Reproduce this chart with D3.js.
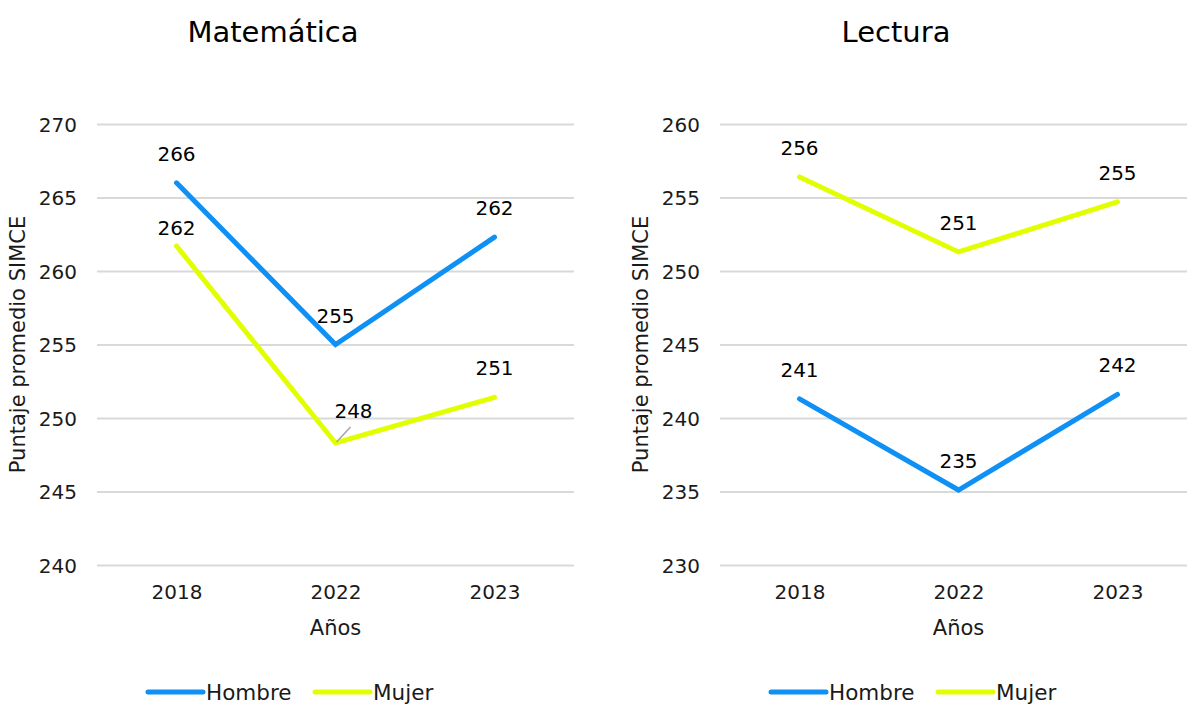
<!DOCTYPE html>
<html lang="es">
<head>
  <meta charset="UTF-8">
  <title>Puntaje promedio SIMCE</title>
  <script src="https://d3js.org/d3.v7.min.js"></script>
  <style>
    body {
      margin: 0;
      background: #fff;
      font-family: "DejaVu Sans", Verdana, sans-serif;
      overflow: hidden;
    }
    .title { font-size: 29px; fill: #000; }
    .axis text { font-size: 20px; fill: #1a1a1a; font-family: "DejaVu Sans", Verdana, sans-serif; }
    .axis path { display: none; }
    .grid line { stroke: #d9d9d9; stroke-width: 2; }
    .axis-title { font-size: 21px; fill: #1a1a1a; }
    .val { font-size: 20px; fill: #000; }
    .legend text { font-size: 21.5px; fill: #1a1a1a; }
  </style>
</head>
<body>
  <svg id="chart" width="1187" height="704"></svg>

  <script>
    const years = ["2018", "2022", "2023"];

    // Matemática
    const mateHombre = [266.0, 255.0, 262.3];
    const mateMujer = [261.7, 248.3, 251.4];
    const mateTicks = [240, 245, 250, 255, 260, 265, 270];

    // Lectura
    const lectHombre = [241.3, 235.1, 241.6];
    const lectMujer = [256.4, 251.3, 254.7];
    const lectTicks = [230, 235, 240, 245, 250, 255, 260];

    const seriesNames = ["Hombre", "Mujer"];
    const colors = { Hombre: "#0e90f5", Mujer: "#e2ff00" };

    const svg = d3.select("#chart");

    const panelW = 623;
    const plot = { left: 97, right: 574, top: 124, bottom: 565 };

    function drawPanel(offsetX, title, ticks, hombre, mujer, labelShift) {
      const g = svg.append("g").attr("transform", `translate(${offsetX},0)`);

      const x = d3.scalePoint()
        .domain(years)
        .range([plot.left, plot.right])
        .padding(0.5);

      const y = d3.scaleLinear()
        .domain([ticks[0], ticks[ticks.length - 1]])
        .range([plot.bottom, plot.top]);

      // grid + y labels
      const yAxis = g.append("g")
        .attr("class", "axis grid")
        .attr("transform", `translate(${plot.left},0)`)
        .call(d3.axisLeft(y).tickValues(ticks).tickSize(-(plot.right - plot.left)).tickPadding(20));
      yAxis.selectAll("text").attr("dy", "0.35em");

      // x labels
      const xAxis = g.append("g")
        .attr("class", "axis")
        .attr("transform", `translate(0,${plot.bottom})`)
        .call(d3.axisBottom(x).tickSize(0).tickPadding(20));
      xAxis.selectAll("text").attr("dy", "0.71em");

      g.append("text")
        .attr("class", "title")
        .attr("x", 273)
        .attr("y", 42)
        .attr("text-anchor", "middle")
        .text(title);

      g.append("text")
        .attr("class", "axis-title")
        .attr("transform", `translate(25,${(plot.top + plot.bottom) / 2}) rotate(-90)`)
        .attr("text-anchor", "middle")
        .text("Puntaje promedio SIMCE");

      g.append("text")
        .attr("class", "axis-title")
        .attr("x", (plot.left + plot.right) / 2)
        .attr("y", 635)
        .attr("text-anchor", "middle")
        .text("Años");

      const line = d3.line()
        .x((d, i) => x(years[i]))
        .y(d => y(d));

      const data = { Hombre: hombre, Mujer: mujer };

      seriesNames.forEach(name => {
        g.append("path")
          .datum(data[name])
          .attr("fill", "none")
          .attr("stroke", colors[name])
          .attr("stroke-width", 5)
          .attr("stroke-linecap", "round")
          .attr("stroke-linejoin", "miter")
          .attr("d", line);
      });

      // value labels
      seriesNames.forEach(name => {
        data[name].forEach((v, i) => {
          const key = name + i;
          const s = labelShift[key] || { dx: 0, dy: -29 };
          const px = x(years[i]);
          const py = y(v);
          if (s.leader) {
            g.append("line")
              .attr("x1", px + 1).attr("y1", py - 1)
              .attr("x2", px + 15).attr("y2", py - 16)
              .attr("stroke", "#a6a6a6")
              .attr("stroke-width", 1.5);
          }
          g.append("text")
            .attr("class", "val")
            .attr("x", px + s.dx)
            .attr("y", py + s.dy)
            .attr("dy", "0.35em")
            .attr("text-anchor", "middle")
            .text(d3.format(".0f")(v));
        });
      });

      // legend
      const legend = g.append("g").attr("class", "legend");
      const legendX = [148, 315];
      seriesNames.forEach((name, i) => {
        legend.append("line")
          .attr("x1", legendX[i]).attr("x2", legendX[i] + 55)
          .attr("y1", 692).attr("y2", 692)
          .attr("stroke", colors[name])
          .attr("stroke-width", 5)
          .attr("stroke-linecap", "round");
        legend.append("text")
          .attr("x", legendX[i] + 58)
          .attr("y", 692)
          .attr("dy", "0.35em")
          .text(name);
      });
    }

    drawPanel(0, "Matemática", mateTicks, mateHombre, mateMujer, {
      Mujer0: { dx: 0, dy: -18 },
      Mujer1: { dx: 18, dy: -32, leader: true }
    });
    drawPanel(panelW, "Lectura", lectTicks, lectHombre, lectMujer, {});
  </script>
</body>
</html>
